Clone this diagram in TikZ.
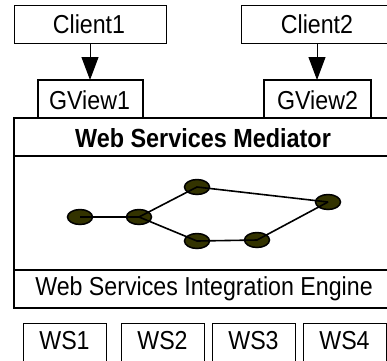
\documentclass[tikz,border=0pt]{standalone}
\usepackage{fontspec}
\setmainfont{Liberation Sans}
\usetikzlibrary{arrows.meta,shapes.geometric}
\definecolor{olivedot}{RGB}{51,51,0}
\newcommand{\stxt}[1]{\scalebox{1}[1.12]{#1}}
\begin{document}
\begin{tikzpicture}[x=1pt,y=-1pt,
  thinbox/.style={draw,line width=1pt,fill=white},
  viewbox/.style={draw,line width=2pt,fill=white},
  mainline/.style={line width=1.6pt},
  lbl/.style={font=\fontsize{23.2}{26}\selectfont,inner sep=0pt},
  dot/.style={ellipse,draw,line width=1.5pt,fill=olivedot,minimum width=25pt,minimum height=15pt,inner sep=0pt},
  link/.style={line width=1.6pt},
  arr/.style={line width=1pt,-{Triangle[length=23pt,width=17pt]}}]
\useasboundingbox (0,0) rectangle (387,360);
\clip (0,0) rectangle (387,360);
% clients
\draw[thinbox] (14,5) rectangle (166,43);
\node[lbl] (c1) at (89,24) {\stxt{Client1}};
\draw[thinbox] (241,5) rectangle (400,43);
\node[lbl] (c2) at (317,24) {\stxt{Client2}};
% main mediator box
\draw[mainline,fill=white] (14,118) rectangle (400,308);
\draw[mainline] (14,156) -- (400,156);
\draw[mainline] (14,270) -- (400,270);
\node[lbl,font=\fontsize{23.4}{26}\selectfont\bfseries] (med) at (203,138) {\stxt{Web Services Mediator}};
\node[lbl] (eng) at (204,289) {\stxt{Web Services Integration Engine}};
% gviews
\draw[viewbox] (38,80) rectangle (143,118);
\node[lbl] (g1) at (89.5,100) {\stxt{GView1}};
\draw[viewbox] (264,80) rectangle (371,118);
\node[lbl] (g2) at (317.5,100) {\stxt{GView2}};
% arrows
\coordinate (a1s) at (90,43);
\coordinate (a1e) at (90,80);
\coordinate (a2s) at (317,43);
\coordinate (a2e) at (317,80);
\draw[arr] (a1s) -- (a1e);
\draw[arr] (a2s) -- (a2e);
% graph
\node[dot] (n1) at (80,217) {};
\node[dot] (n2) at (139,217) {};
\node[dot] (n3) at (197,187) {};
\node[dot] (n4) at (328,202) {};
\node[dot] (n5) at (197,241) {};
\node[dot] (n6) at (257,240) {};
\draw[link] (n1.center) -- (n2.center);
\draw[link] (n2.center) -- (n3.center) -- (n4.center);
\draw[link] (n2.center) -- (n5.center) -- (n6.center) -- (n4.center);
% web services
\draw[thinbox] (23,323) rectangle (106,362);
\node[lbl] (w1) at (64.5,341) {\stxt{WS1}};
\draw[thinbox] (121,323) rectangle (204,362);
\node[lbl] (w2) at (162.5,341) {\stxt{WS2}};
\draw[thinbox] (212,323) rectangle (295,362);
\node[lbl] (w3) at (253.5,341) {\stxt{WS3}};
\draw[thinbox] (303,323) rectangle (386,362);
\node[lbl] (w4) at (344.5,341) {\stxt{WS4}};
\end{tikzpicture}
\end{document}
